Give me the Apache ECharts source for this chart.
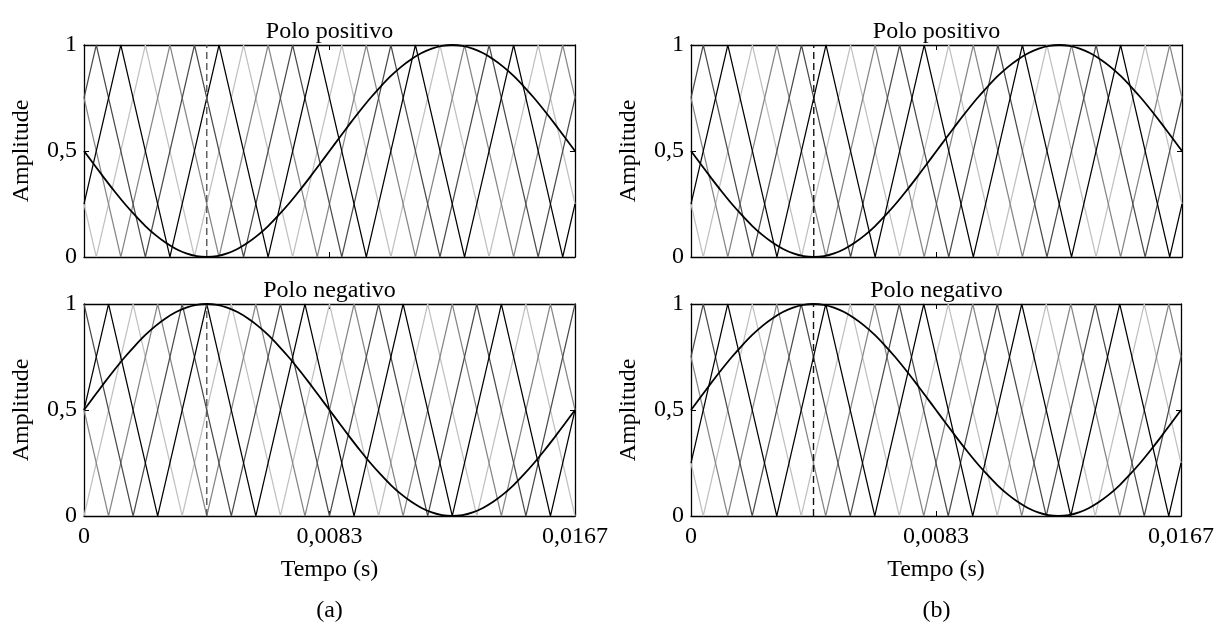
<!DOCTYPE html>
<html>
<head>
<meta charset="utf-8">
<script src="https://cdn.jsdelivr.net/npm/echarts@6/dist/echarts.min.js"></script>
<style>
  html, body { margin: 0; padding: 0; background: #fff; }
  #chart { width: 1217px; height: 631px; }
</style>
</head>
<body>
<div id="chart"></div>
<script>
// ---------------- data ----------------
// One period of the 60 Hz fundamental (s)
const periodS = 1 / 60;

// Tick labels
const xTickValues = [0, 1 / 120, 1 / 60];
const xTickLabels = ['0', '0,0083', '0,0167'];
const yTickValues = [0, 0.5, 1];
const yTickLabels = ['0', '0,5', '1'];

// Panel texts
const panelTitles = ['Polo positivo', 'Polo negativo'];
const panelCaptions = ['(a)', '(b)'];
const xAxisName = 'Tempo (s)';
const yAxisName = 'Amplitude';

// Modulating references, sampled every T/48 (values 0..1)
const refStepMs = 16.667 / 48;
const refPositive = [
  0.500, 0.435, 0.371, 0.309, 0.250, 0.196, 0.146, 0.103, 0.067, 0.038, 0.017, 0.004,
  0.000, 0.004, 0.017, 0.038, 0.067, 0.103, 0.146, 0.196, 0.250, 0.309, 0.371, 0.435,
  0.500, 0.565, 0.629, 0.691, 0.750, 0.804, 0.854, 0.897, 0.933, 0.962, 0.983, 0.996,
  1.000, 0.996, 0.983, 0.962, 0.933, 0.897, 0.854, 0.804, 0.750, 0.691, 0.629, 0.565,
  0.500
];
const refNegative = [
  0.500, 0.565, 0.629, 0.691, 0.750, 0.804, 0.854, 0.897, 0.933, 0.962, 0.983, 0.996,
  1.000, 0.996, 0.983, 0.962, 0.933, 0.897, 0.854, 0.804, 0.750, 0.691, 0.629, 0.565,
  0.500, 0.435, 0.371, 0.309, 0.250, 0.196, 0.146, 0.103, 0.067, 0.038, 0.017, 0.004,
  0.000, 0.004, 0.017, 0.038, 0.067, 0.103, 0.146, 0.196, 0.250, 0.309, 0.371, 0.435,
  0.500
];

// Triangular carriers (300 Hz), vertices as [time ms, value]
// Set shifted by 1/8 of a carrier period
const carrierShiftedBlack = [[0, 0.25], [1.25, 1], [2.917, 0], [4.583, 1], [6.25, 0], [7.917, 1], [9.583, 0], [11.25, 1], [12.917, 0], [14.583, 1], [16.25, 0], [16.667, 0.25]];
const carrierShiftedLight = [[0, 0.25], [0.417, 0], [2.083, 1], [3.75, 0], [5.417, 1], [7.083, 0], [8.75, 1], [10.417, 0], [12.083, 1], [13.75, 0], [15.417, 1], [16.667, 0.25]];
const carrierShiftedMid   = [[0, 0.75], [1.25, 0], [2.917, 1], [4.583, 0], [6.25, 1], [7.917, 0], [9.583, 1], [11.25, 0], [12.917, 1], [14.583, 0], [16.25, 1], [16.667, 0.75]];
const carrierShiftedDark  = [[0, 0.75], [0.417, 1], [2.083, 0], [3.75, 1], [5.417, 0], [7.083, 1], [8.75, 0], [10.417, 1], [12.083, 0], [13.75, 1], [15.417, 0], [16.667, 0.75]];
// Set aligned with t = 0
const carrierAlignedBlack = [[0, 0.5], [0.833, 1], [2.5, 0], [4.167, 1], [5.833, 0], [7.5, 1], [9.167, 0], [10.833, 1], [12.5, 0], [14.167, 1], [15.833, 0], [16.667, 0.5]];
const carrierAlignedLight = [[0, 0], [1.667, 1], [3.333, 0], [5, 1], [6.667, 0], [8.333, 1], [10, 0], [11.667, 1], [13.333, 0], [15, 1], [16.667, 0]];
const carrierAlignedMid   = [[0, 0.5], [0.833, 0], [2.5, 1], [4.167, 0], [5.833, 1], [7.5, 0], [9.167, 1], [10.833, 0], [12.5, 1], [14.167, 0], [15.833, 1], [16.667, 0.5]];
const carrierAlignedDark  = [[0, 1], [1.667, 0], [3.333, 1], [5, 0], [6.667, 1], [8.333, 0], [10, 1], [11.667, 0], [13.333, 1], [15, 0], [16.667, 1]];

// Sampling instant marker (ms)
const markerTimeMs = 4.167;

// ---------------- styling ----------------
const fontFamily = '"Liberation Serif", "Times New Roman", serif';
const fontSize = 24;
const carrierColors = { black: '#000000', dark: '#4a4a4a', mid: '#858585', light: '#c0c0c0' };
const carrierWidth = 1.2;

// Panel boxes: [left, top] in px; all share width/height
const panelW = 491, panelH = 212;
const panelPos = [[84, 45], [84, 304], [691, 45], [691, 304]];

// Which carrier set / reference each panel uses
const panelCarriers = [
  { black: carrierShiftedBlack, dark: carrierShiftedDark, mid: carrierShiftedMid, light: carrierShiftedLight },
  { black: carrierAlignedBlack, dark: carrierAlignedDark, mid: carrierAlignedMid, light: carrierAlignedLight },
  { black: carrierShiftedBlack, dark: carrierShiftedDark, mid: carrierShiftedMid, light: carrierShiftedLight },
  { black: carrierShiftedBlack, dark: carrierShiftedDark, mid: carrierShiftedMid, light: carrierShiftedLight }
];
const panelRefs = [refPositive, refNegative, refPositive, refNegative];
const markerColors = ['#555555', '#555555', '#111111', '#111111'];

// ---------------- build ----------------
const toSeconds = pts => pts.map(p => [p[0] / 1000, p[1]]);
const refPoints = vals => vals.map((v, k) => [k * refStepMs / 1000, v]);

const grids = [], xAxes = [], yAxes = [], series = [], graphics = [];

panelPos.forEach((pos, i) => {
  const isBottom = i % 2 === 1;
  grids.push({ left: pos[0], top: pos[1], width: panelW, height: panelH, containLabel: false });

  const baseX = {
    type: 'value', gridIndex: i, min: 0, max: periodS, interval: 1 / 120,
    axisLine: { show: true, onZero: false, lineStyle: { color: '#000', width: 1.3 } },
    axisTick: { show: true, inside: true, length: 5, lineStyle: { color: '#000', width: 1 } },
    splitLine: { show: false }
  };
  xAxes.push(Object.assign({}, baseX, {
    position: 'bottom',
    name: isBottom ? xAxisName : '',
    nameLocation: 'middle', nameGap: 42,
    nameTextStyle: { fontFamily, fontSize, color: '#000' },
    axisLabel: {
      show: isBottom, margin: 9, fontFamily, fontSize, color: '#000',
      formatter: v => {
        const k = xTickValues.findIndex(t => Math.abs(t - v) < 1e-9);
        return k >= 0 ? xTickLabels[k] : '';
      }
    }
  }));

  const baseY = {
    type: 'value', gridIndex: i, min: 0, max: 1, interval: 0.5,
    axisLine: { show: true, onZero: false, lineStyle: { color: '#000', width: 1.3 } },
    axisTick: { show: true, inside: true, length: 5, lineStyle: { color: '#000', width: 1 } },
    splitLine: { show: false }
  };
  yAxes.push(Object.assign({}, baseY, {
    position: 'left',
    name: yAxisName, nameLocation: 'middle', nameGap: 50, nameRotate: 90,
    nameTextStyle: { fontFamily, fontSize, color: '#000' },
    axisLabel: {
      show: true, margin: 7, fontFamily, fontSize, color: '#000',
      formatter: v => {
        const k = yTickValues.findIndex(t => Math.abs(t - v) < 1e-9);
        return k >= 0 ? yTickLabels[k] : '';
      }
    }
  }));
});

// Opposite-side axes to close each box with inward ticks
panelPos.forEach((pos, i) => {
  xAxes.push({
    type: 'value', gridIndex: i, min: 0, max: periodS, interval: 1 / 120, position: 'top',
    axisLine: { show: true, onZero: false, lineStyle: { color: '#000', width: 1.3 } },
    axisTick: { show: true, inside: true, length: 5, lineStyle: { color: '#000', width: 1 } },
    axisLabel: { show: false }, splitLine: { show: false }
  });
  yAxes.push({
    type: 'value', gridIndex: i, min: 0, max: 1, interval: 0.5, position: 'right',
    axisLine: { show: true, onZero: false, lineStyle: { color: '#000', width: 1.3 } },
    axisTick: { show: true, inside: true, length: 5, lineStyle: { color: '#000', width: 1 } },
    axisLabel: { show: false }, splitLine: { show: false }
  });
});

const lineSeries = (i, data, color, width, z, extra) => Object.assign({
  type: 'line', xAxisIndex: i, yAxisIndex: i, data,
  showSymbol: false, symbol: 'none', silent: true, z,
  lineStyle: { color, width, type: 'solid' }
}, extra || {});

panelPos.forEach((pos, i) => {
  const c = panelCarriers[i];
  series.push(lineSeries(i, toSeconds(c.light), carrierColors.light, carrierWidth, 2));
  series.push(lineSeries(i, toSeconds(c.mid), carrierColors.mid, carrierWidth, 3));
  series.push(lineSeries(i, toSeconds(c.dark), carrierColors.dark, carrierWidth, 4));
  series.push(lineSeries(i, toSeconds(c.black), carrierColors.black, carrierWidth, 5));
  series.push(lineSeries(i, [[markerTimeMs / 1000, 0], [markerTimeMs / 1000, 1]], markerColors[i], 1.4, 6,
    { lineStyle: { color: markerColors[i], width: 1.4, type: [7, 4] } }));
  series.push(lineSeries(i, refPoints(panelRefs[i]), '#000', 1.8, 7, { smooth: 0.3 }));

  // panel title
  graphics.push({
    type: 'text', x: pos[0] + panelW / 2, y: pos[1] - 13,
    style: { text: panelTitles[i % 2], font: `${fontSize}px ${fontFamily}`, fill: '#000', align: 'center', verticalAlign: 'middle' }
  });
});

// captions below each column
[0, 1].forEach(j => {
  graphics.push({
    type: 'text', x: panelPos[j * 2][0] + panelW / 2, y: 611,
    style: { text: panelCaptions[j], font: `${fontSize}px ${fontFamily}`, fill: '#000', align: 'center', verticalAlign: 'middle' }
  });
});

const chart = echarts.init(document.getElementById('chart'), null, { renderer: 'canvas' });
chart.setOption({
  animation: false,
  backgroundColor: '#fff',
  grid: grids,
  xAxis: xAxes,
  yAxis: yAxes,
  series,
  graphic: graphics
});
</script>
</body>
</html>
